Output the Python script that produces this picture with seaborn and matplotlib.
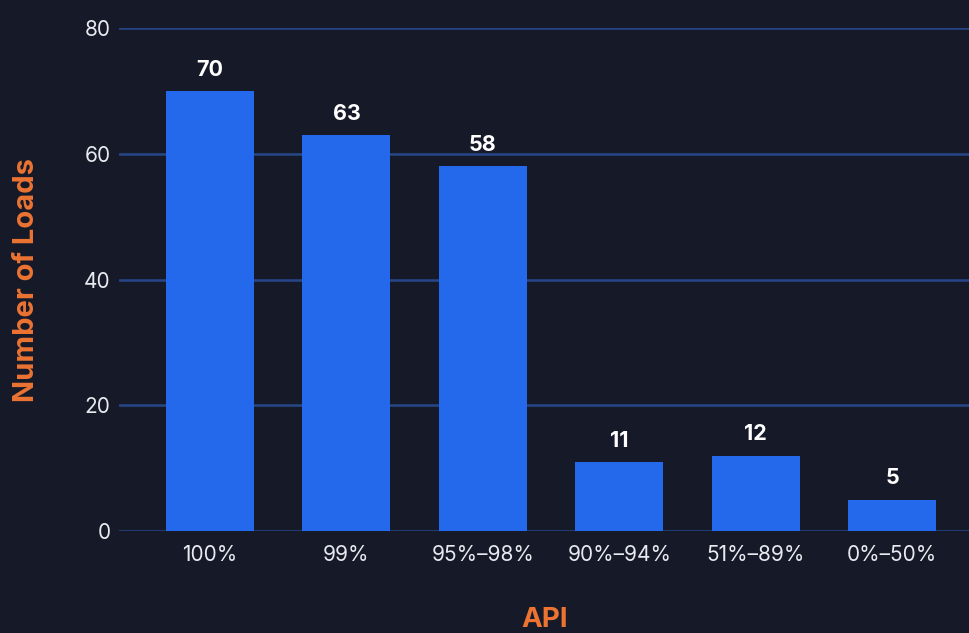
import matplotlib
matplotlib.use("Agg")
import matplotlib.pyplot as plt
import seaborn as sns
import pandas as pd

categories = ["100%", "99%", "95%–98%", "90%–94%", "51%–89%", "0%–50%"]
loads = [70, 63, 58, 11, 12, 5]
yticks = [0, 20, 40, 60, 80]

BG = "#161a28"
BAR = "#2469ec"
GRID = "#27468a"
ORANGE = "#ec7433"
TXT = "#e8eaf0"

sns.set_theme(style="dark")
plt.rcParams["font.family"] = ["Inter", "DejaVu Sans"]

df = pd.DataFrame({"API": categories, "Loads": loads})

fig = plt.figure(figsize=(9.70, 6.33), dpi=100, facecolor=BG)
ax = fig.add_axes([119/970, 102/633, 1 - 119/970, 503/633])
ax.set_facecolor(BG)

for y in yticks:
    ax.axhline(y, color=GRID, lw=1.8, zorder=0)

sns.barplot(data=df, x="API", y="Loads", color=BAR, saturation=1,
            width=0.645, ax=ax, zorder=2, linewidth=0, edgecolor=BAR)

for i, v in enumerate(loads):
    ax.annotate(str(v), (i, v), xytext=(0, 8), textcoords="offset points",
                ha="center", va="bottom", color="white", fontsize=15.5,
                fontweight="bold")

ax.set_ylim(0, 80)
ax.set_xlim(-0.667, 5.57)
ax.set_yticks(yticks)
ax.tick_params(axis="both", length=0, colors=TXT, labelsize=15)
ax.tick_params(axis="y", pad=6)
ax.tick_params(axis="x", pad=10)
for s in ax.spines.values():
    s.set_visible(False)
ax.grid(False)

ax.set_ylabel("Number of Loads", color=ORANGE, fontsize=21, fontweight="bold",
              labelpad=32)
ax.set_xlabel("API", color=ORANGE, fontsize=20, fontweight="bold", labelpad=30)

fig.savefig("out.png", dpi=100, facecolor=BG)
